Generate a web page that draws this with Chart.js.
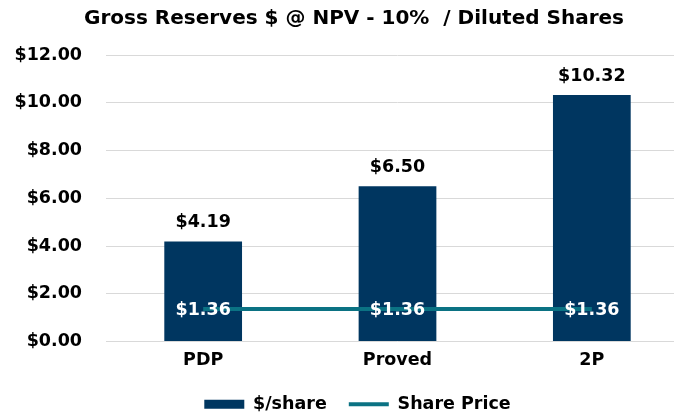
<!DOCTYPE html>
<html>
<head>
<meta charset="utf-8">
<script src="https://cdn.jsdelivr.net/npm/chart.js@4.4.0/dist/chart.umd.min.js"></script>
<style>
    html, body { margin: 0; padding: 0; background: #ffffff; overflow: hidden; }
    #wrap { position: relative; width: 715px; height: 413px; }
    #title {
        position: absolute; left: 0; width: 708px; top: 5px; text-align: center;
        font: bold 20px "DejaVu Sans", sans-serif;
        color: #000000; white-space: pre;
    }
</style>
</head>
<body>
<div id="wrap">
    <div id="title">Gross Reserves $ @ NPV - 10%  / Diluted Shares</div>
    <canvas id="chart" width="715" height="413"></canvas>
</div>
<script>
// Chart data
const categories = ['PDP', 'Proved', '2P'];
const perShare = [4.19, 6.50, 10.32];
const sharePrice = [1.36, 1.36, 1.36];
const yTicks = [0, 2, 4, 6, 8, 10, 12];

const barColor = '#003660';
const lineColor = '#0b7283';
const fontFamily = '"DejaVu Sans", sans-serif';
const labelFont = 'bold 17.5px ' + fontFamily;

function money(v) {
    return '$' + v.toFixed(2);
}

/**
 * Draws the value labels above bars and on the share price line
 */
const valueLabels = {
    id: 'valueLabels',
    afterDatasetsDraw(chart) {
        const ctx = chart.ctx;
        ctx.save();
        ctx.font = labelFont;
        ctx.textAlign = 'center';
        ctx.textBaseline = 'middle';

        // bar labels above each bar
        chart.getDatasetMeta(0).data.forEach((bar, i) => {
            ctx.fillStyle = '#000000';
            ctx.fillText(money(perShare[i]), bar.x, bar.y - 19);
        });

        // share price labels, white, centred on the points
        chart.getDatasetMeta(1).data.forEach((pt, i) => {
            ctx.fillStyle = '#ffffff';
            ctx.fillText(money(sharePrice[i]), pt.x, pt.y + 1);
        });
        ctx.restore();
    }
};

const ctx = document.getElementById('chart').getContext('2d');

new Chart(ctx, {
    data: {
        labels: categories,
        datasets: [
            {
                type: 'bar',
                label: '$/share',
                data: perShare,
                backgroundColor: barColor,
                categoryPercentage: 1,
                barPercentage: 0.4,
                order: 1
            },
            {
                type: 'line',
                label: 'Share Price',
                data: sharePrice,
                borderColor: lineColor,
                backgroundColor: lineColor,
                borderWidth: 4,
                pointRadius: 0,
                order: 0
            }
        ]
    },
    options: {
        responsive: false,
        animation: false,
        layout: {
            padding: { left: 0, right: 0, top: 55, bottom: -10 }
        },
        scales: {
            x: {
                grid: { display: false },
                border: { display: false },
                ticks: {
                    color: '#000000',
                    font: { family: fontFamily, size: 17.5, weight: 'bold' },
                    padding: 0
                },
                afterFit(scale) { scale.height = 32; }
            },
            y: {
                min: 0,
                max: 12,
                grid: { color: '#d9d9d9', lineWidth: 1, drawTicks: false },
                border: { display: false },
                afterBuildTicks(scale) {
                    scale.ticks = yTicks.map(v => ({ value: v }));
                },
                ticks: {
                    color: '#000000',
                    font: { family: fontFamily, size: 17.5, weight: 'bold' },
                    padding: 24,
                    callback: v => money(v)
                },
                afterFit(scale) { scale.width = 106; }
            },
            // empty spacer on the right, keeps the legend centred like the original
            spacer: {
                position: 'right',
                min: 0,
                max: 12,
                grid: { display: false },
                border: { display: false },
                ticks: { display: false },
                afterFit(scale) { scale.width = 26; }
            }
        },
        plugins: {
            title: { display: false },
            tooltip: { enabled: false },
            legend: {
                position: 'bottom',
                labels: {
                    color: '#000000',
                    font: { family: fontFamily, size: 17.5, weight: 'bold' },
                    usePointStyle: true,
                    pointStyleWidth: 40,
                    boxHeight: 9,
                    padding: 22,
                    generateLabels() {
                        return [
                            { text: '$/share', fillStyle: barColor, strokeStyle: barColor, lineWidth: 0, pointStyle: 'rect', datasetIndex: 0 },
                            { text: 'Share Price', fillStyle: lineColor, strokeStyle: lineColor, lineWidth: 4, pointStyle: 'line', datasetIndex: 1 }
                        ];
                    }
                }
            }
        }
    },
    plugins: [valueLabels]
});
</script>
</body>
</html>
